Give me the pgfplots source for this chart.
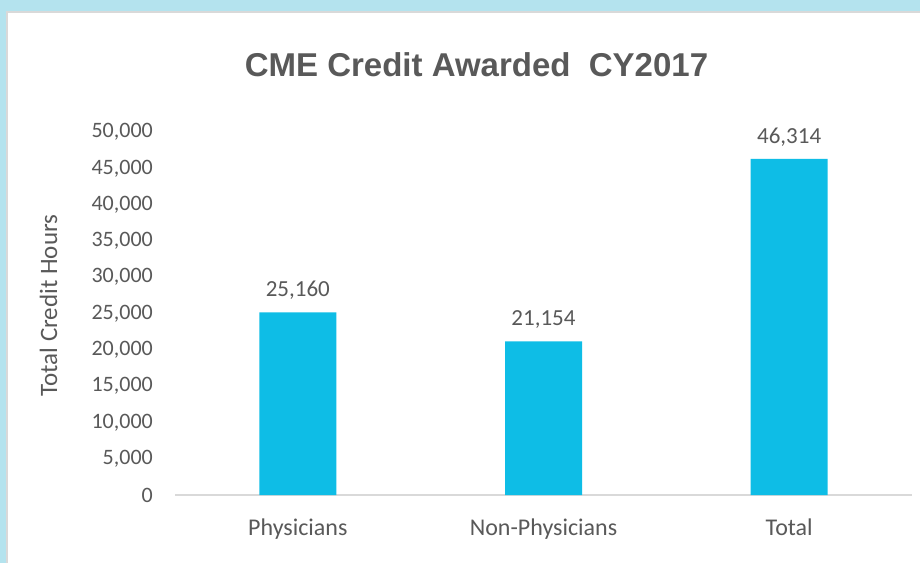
\documentclass[border=0pt]{standalone}
\usepackage{fontspec}
\setmainfont{Carlito}
\newfontfamily\titlefont{Liberation Sans}
\usepackage{pgfplots}
\pgfplotsset{compat=1.18}
\definecolor{bgblue}{HTML}{B4E3EE}
\definecolor{panelgray}{HTML}{D9D9D9}
\definecolor{txtgray}{HTML}{595959}
\definecolor{barblue}{HTML}{0EBDE6}
\begin{document}
\begin{tikzpicture}
% background and panel
\fill[bgblue] (0,0) rectangle (920pt,563pt);
\useasboundingbox (0,0) rectangle (920pt,563pt);
\fill[white] (7pt,0) rectangle (920pt,552pt);
\draw[panelgray, line width=2pt] (7pt,0) -- (7pt,551pt) -- (920pt,551pt);

\node[anchor=base, text=txtgray, inner sep=0pt] at (476.5pt,486pt)
  {\titlefont\bfseries\fontsize{33}{38}\selectfont CME Credit Awarded\ \ CY2017};

\begin{axis}[
    at={(175pt,68pt)}, anchor=south west,
    scale only axis,
    width=737pt, height=363pt,
    ybar, bar width=77pt,
    xmin=-0.5, xmax=2.5,
    ymin=0, ymax=50000,
    enlargelimits=false,
    xtick={0,1,2},
    xticklabels={Physicians, Non-Physicians, Total},
    ytick={0,5000,...,50000},
    axis lines*=left,
    y axis line style={draw=none},
    x axis line style={draw=panelgray, line width=1.5pt},
    major tick length=0pt,
    tick style={draw=none},
    /pgf/number format/assume math mode=true,
    /pgf/number format/1000 sep={,},
    scaled y ticks=false,
    yticklabel style={text=txtgray, font=\fontsize{22}{26}\selectfont, inner sep=0pt, anchor=east, xshift=-22pt},
    xticklabel style={text=txtgray, font=\fontsize{24}{28}\selectfont, inner sep=0pt, anchor=base, yshift=-40pt},
    ylabel={Total Credit Hours},
    ylabel style={at={(axis description cs:-0.1716,0.522)}, rotate=0, anchor=center,
        text=txtgray, font=\fontsize{25}{30}\selectfont, inner sep=0pt},
    nodes near coords={\pgfmathprintnumber[assume math mode=true,1000 sep={,}]{\pgfplotspointmeta}},
    every node near coord/.append style={text=txtgray, font=\fontsize{23}{27}\selectfont,
        anchor=base, inner sep=0pt, yshift=15.5pt},
]
\addplot[fill=barblue, draw=none] coordinates {(0,25160) (1,21154) (2,46314)};
\end{axis}
\end{tikzpicture}
\end{document}
